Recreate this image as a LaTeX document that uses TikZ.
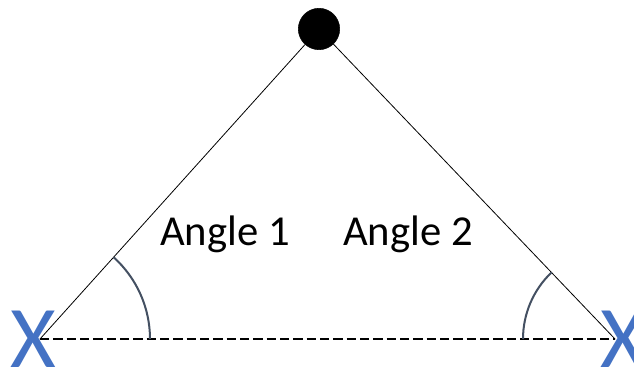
\documentclass[tikz,border=0pt]{standalone}
\usepackage{fontspec}
\setmainfont{Carlito}
\usetikzlibrary{positioning}

\begin{document}
\begin{tikzpicture}[x=0.75pt,y=-0.75pt]
\tikzset{
  apex/.style={circle,fill=black,draw=black,minimum size=31pt,inner sep=0pt},
  side/.style={draw=black,line width=0.6pt,line cap=round},
  base/.style={draw=black,line width=1.3pt,dash pattern=on 7pt off 3pt},
  anglearc/.style={draw={rgb,255:red,68;green,80;blue,98},line width=1.5pt},
  cross/.style={text={rgb,255:red,68;green,114;blue,196},font=\fontsize{66}{66}\selectfont,inner sep=0pt,anchor=base},
  label/.style={font=\fontsize{32}{32}\selectfont,inner sep=0pt,anchor=base}
}
\useasboundingbox[fill=white] (0,0) rectangle (634,367);
\node[apex] (n_top) at (319,29) {};
\coordinate (v_L) at (40,339);
\coordinate (v_R) at (615,339);
\node[cross] (x_L) at (33,367) {X};
\node[cross] (x_R) at (623,367) {X};
\draw[side] (n_top) -- (v_L);
\draw[side] (n_top) -- (v_R);
\draw[base] (v_L) -- (v_R);
\draw[anglearc] ([xshift=82.5pt]v_L) arc[start angle=0,end angle=-48,radius=110];
\draw[anglearc] ([xshift=-69pt]v_R) arc[start angle=180,end angle=226.5,radius=92];
\node[label] (t_one) at (225,245) {Angle 1};
\node[label] (t_two) at (408,245) {Angle 2};
\end{tikzpicture}
\end{document}
